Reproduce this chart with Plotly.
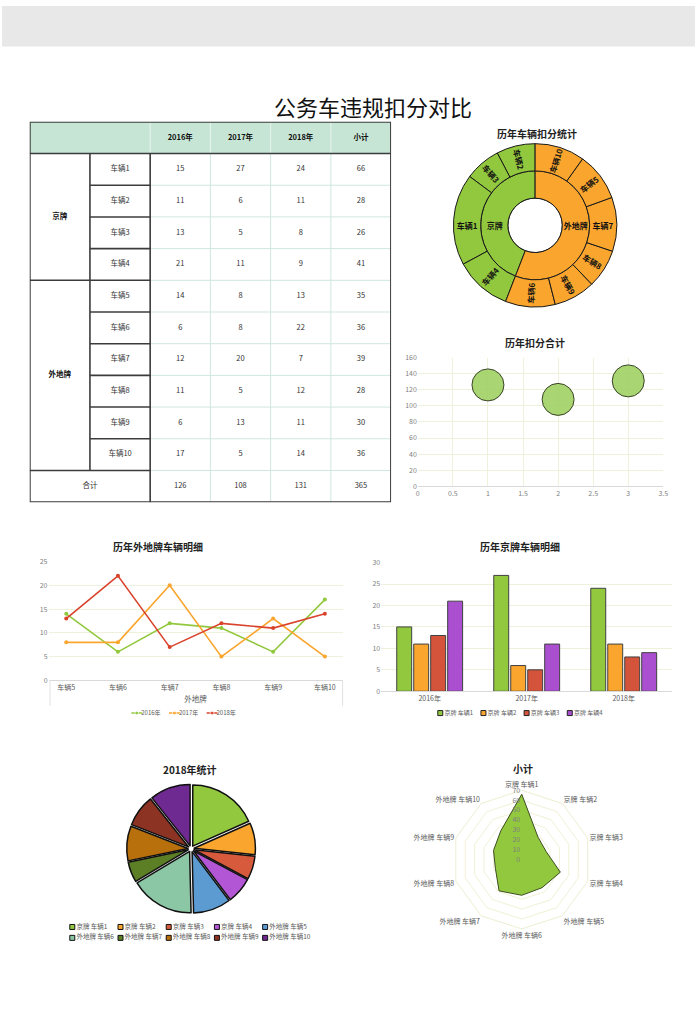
import plotly.graph_objects as go

# ---------------- data ----------------
vehicles = ["车辆1", "车辆2", "车辆3", "车辆4", "车辆5",
            "车辆6", "车辆7", "车辆8", "车辆9", "车辆10"]
plates = ["京牌"] * 4 + ["外地牌"] * 6
years = ["2016年", "2017年", "2018年"]
score_2016 = [15, 11, 13, 21, 14, 6, 12, 11, 6, 17]
score_2017 = [27, 6, 5, 11, 8, 8, 20, 5, 13, 5]
score_2018 = [24, 11, 8, 9, 13, 22, 7, 12, 11, 14]
subtotal = [66, 28, 26, 41, 35, 36, 39, 28, 30, 36]
year_total = [126, 108, 131]
grand_total = 365
plate_names = ["京牌", "外地牌"]
plate_total = [161, 204]
bubble_x = [1, 2, 3]

# order of the outer ring of the sunburst, as drawn (counterclockwise from top)
sun_order = ["车辆2", "车辆3", "车辆1", "车辆4",
             "车辆6", "车辆9", "车辆8", "车辆7", "车辆5", "车辆10"]

GREEN, ORANGE, RED, PURPLE = "#92c83e", "#f9a52e", "#d4533b", "#a94fcf"
line_colors = [GREEN, ORANGE, "#d9432b"]
bar_colors = [GREEN, ORANGE, RED, PURPLE]
pie_colors = [GREEN, ORANGE, "#d85a3d", "#b356d6", "#5b9bd1",
              "#8cc7a5", "#5c7f26", "#b8700c", "#8c3323", "#6f2a91"]

FONT = "Noto Sans CJK SC, Noto Sans, sans-serif"
W, H = 700, 1030


def fx(x):
    return x / W


def fy(y):
    return 1 - y / H


fig = go.Figure()

# ---------------- table (drawn on hidden axes x4/y4) ----------------
cols_x = [2.5, 3.5, 4.5, 5.5]
tx, ty, tt = [], [], []
for i, v in enumerate(vehicles):
    r = i + 1.5
    tx.append(1.5); ty.append(r); tt.append(v)
    for cx, val in zip(cols_x, [score_2016[i], score_2017[i], score_2018[i], subtotal[i]]):
        tx.append(cx); ty.append(r); tt.append(str(val))
tx.append(1.0); ty.append(11.5); tt.append("合计")
for cx, val in zip(cols_x, year_total + [grand_total]):
    tx.append(cx); ty.append(11.5); tt.append(str(val))

fig.add_trace(go.Scatter(x=tx, y=ty, text=tt, mode="text", xaxis="x4", yaxis="y4",
                         textfont=dict(size=7.5, color="#333333"), hoverinfo="skip",
                         showlegend=False))
fig.add_trace(go.Scatter(x=cols_x + [0.5, 0.5], y=[0.5] * 4 + [3.0, 8.0],
                         text=years + ["小计"] + plate_names, mode="text",
                         xaxis="x4", yaxis="y4",
                         textfont=dict(size=7.5, color="#111111", weight="bold"),
                         hoverinfo="skip", showlegend=False))

shapes = []
DARK = dict(color="#3c3c3c", width=1.6)
LIGHT = dict(color="#cfe7df", width=1)


def tline(x0, y0, x1, y1, line):
    shapes.append(dict(type="line", xref="x4", yref="y4", x0=x0, y0=y0, x1=x1, y1=y1,
                       line=line, layer="above"))


shapes.append(dict(type="rect", xref="x4", yref="y4", x0=0, y0=0, x1=6, y1=1,
                   fillcolor="#c6e5d5", line=dict(width=0), layer="below"))
for k in range(2, 12):
    tline(2, k, 6, k, LIGHT)
for k in (3, 4, 5):
    tline(k, 1, k, 12, LIGHT)
for k in (2, 3, 4, 5):
    tline(k, 0, k, 1, dict(color="#e8f4ee", width=1))
tline(0, 1, 6, 1, DARK)
tline(2, 1, 2, 12, DARK)
tline(1, 1, 1, 11, DARK)
for k in (2, 3, 4, 6, 7, 8, 9, 10):
    tline(1, k, 2, k, DARK)
for k in (5, 11):
    tline(0, k, 2, k, DARK)
shapes.append(dict(type="rect", xref="x4", yref="y4", x0=0, y0=0, x1=6, y1=12,
                   line=dict(color="#3c3c3c", width=2), layer="above"))

# grey band at the very top of the page
shapes.append(dict(type="rect", xref="paper", yref="paper", x0=0, x1=1,
                   y0=fy(41), y1=1, fillcolor="#e8e8e8", line=dict(width=0), layer="below"))
# light frame round the line chart's category labels
for xx in (48.5, 344):
    shapes.append(dict(type="line", xref="paper", yref="paper", x0=fx(xx), x1=fx(xx),
                       y0=fy(681), y1=fy(707), line=dict(color="#e2e2e2", width=1)))

# ---------------- sunburst ----------------
sb_ids = ["root"] + plate_names + ["s-" + v for v in sun_order]
sb_labels = [""] + plate_names + sun_order
sb_parents = [""] + ["root", "root"] + [plates[vehicles.index(v)] for v in sun_order]
sb_values = [grand_total] + plate_total + [subtotal[vehicles.index(v)] for v in sun_order]
sb_colors = ["white", GREEN, ORANGE] + [GREEN if plates[vehicles.index(v)] == "京牌" else ORANGE
                                         for v in sun_order]
fig.add_trace(go.Sunburst(ids=sb_ids, labels=sb_labels, parents=sb_parents, values=sb_values,
                          branchvalues="total", sort=False, rotation=90,
                          marker=dict(colors=sb_colors, line=dict(color="#1a1a1a", width=1)),
                          leaf=dict(opacity=1),
                          insidetextorientation="radial",
                          textfont=dict(size=8, color="#111111", weight="bold"),
                          hoverinfo="skip",
                          domain=dict(x=[fx(456), fx(621)], y=[fy(304), fy(139)])))

# ---------------- bubble chart ----------------
fig.add_trace(go.Scatter(x=bubble_x, y=year_total, mode="markers", xaxis="x", yaxis="y",
                         marker=dict(size=32, color="#a5d36b", opacity=0.95,
                                     line=dict(color="#2f3a1c", width=1)),
                         showlegend=False))

# ---------------- line chart (外地牌) ----------------
wai_idx = [i for i, p in enumerate(plates) if p == "外地牌"]
for name, series, col in zip(years, [score_2016, score_2017, score_2018], line_colors):
    fig.add_trace(go.Scatter(x=[vehicles[i] for i in wai_idx], y=[series[i] for i in wai_idx],
                             name=name, mode="lines+markers", xaxis="x2", yaxis="y2",
                             line=dict(color=col, width=1.6), marker=dict(size=4, color=col),
                             showlegend=False))

# ---------------- bar chart (京牌) ----------------
jing_idx = [i for i, p in enumerate(plates) if p == "京牌"]
bar_names = [plates[i] + " " + vehicles[i] for i in jing_idx]
for i, name, col in zip(jing_idx, bar_names, bar_colors):
    fig.add_trace(go.Bar(x=years, y=[score_2016[i], score_2017[i], score_2018[i]],
                         name=name, xaxis="x3", yaxis="y3",
                         marker=dict(color=col, line=dict(color="#404040", width=1)),
                         showlegend=False))

# ---------------- pie (2018) ----------------
pie_labels = [p + " " + v for p, v in zip(plates, vehicles)]
fig.add_trace(go.Pie(labels=pie_labels, values=score_2018, sort=False, direction="clockwise",
                     rotation=0, pull=0.05, textinfo="none", showlegend=False,
                     marker=dict(colors=pie_colors, line=dict(color="#111111", width=1.5)),
                     domain=dict(x=[fx(126), fx(256)], y=[fy(916), fy(786)])))

# ---------------- radar (小计) ----------------
fig.add_trace(go.Scatterpolar(r=subtotal + subtotal[:1], theta=pie_labels + pie_labels[:1],
                              mode="lines", fill="toself", fillcolor=GREEN,
                              line=dict(color="#3d4d1f", width=1), showlegend=False))

# ---------------- compact keys (axes in page pixels) ----------------
# line chart key -> x6/y6
for k, (name, col) in enumerate(zip(years, line_colors)):
    x0 = 130.7 + k * 38
    fig.add_trace(go.Scatter(x=[x0, x0 + 5.5, x0 + 11], y=[714, 714, 714], mode="lines+markers",
                             xaxis="x6", yaxis="y6", line=dict(color=col, width=1.6),
                             marker=dict(size=[0, 4, 0], color=col), hoverinfo="skip",
                             showlegend=False))
    fig.add_trace(go.Scatter(x=[x0 + 10], y=[714], text=[name], mode="text",
                             textposition="middle right", xaxis="x6", yaxis="y6",
                             textfont=dict(size=6, color="#595959"), hoverinfo="skip",
                             showlegend=False))
# bar chart key -> x7/y7
fig.add_trace(go.Scatter(x=[442.7 + k * 43.6 for k in range(4)], y=[714] * 4, text=bar_names,
                         mode="markers+text", textposition="middle right",
                         xaxis="x7", yaxis="y7", hoverinfo="skip", showlegend=False,
                         marker=dict(symbol="square", size=5, color=bar_colors,
                                     line=dict(color="#222222", width=1)),
                         textfont=dict(size=6, color="#595959")))
# pie key, five entries per row -> x8/y8
fig.add_trace(go.Scatter(x=[71 + (i % 5) * 48.7 for i in range(10)],
                         y=[930 + (i // 5) * 11 for i in range(10)],
                         text=pie_labels, mode="markers+text", textposition="middle right",
                         xaxis="x8", yaxis="y8", hoverinfo="skip", showlegend=False,
                         marker=dict(symbol="square", size=5, color=pie_colors,
                                     line=dict(color="#111111", width=1)),
                         textfont=dict(size=6.5, color="#595959")))


def pix_axes(x0, x1, y0, y1):
    xa = dict(domain=[fx(x0), fx(x1)], range=[x0, x1], visible=False, fixedrange=True)
    ya = dict(domain=[fy(y1), fy(y0)], range=[y1, y0], visible=False, fixedrange=True)
    return xa, ya


x6, y6 = pix_axes(120, 280, 706, 722)
x7, y7 = pix_axes(430, 690, 706, 722)
x8, y8 = pix_axes(60, 340, 922, 950)
x6["anchor"], y6["anchor"] = "y6", "x6"
x7["anchor"], y7["anchor"] = "y7", "x7"
x8["anchor"], y8["anchor"] = "y8", "x8"

# ---------------- layout ----------------
tick = dict(size=7, color="#7f7f7f")
grid = "#eef1dc"
annotations = [
    dict(x=fx(375), y=fy(101), text="公务车违规扣分对比", font=dict(size=22, color="#111111")),
    dict(x=fx(540), y=fy(129), text="历年车辆扣分统计", font=dict(size=10, color="#222", weight="bold")),
    dict(x=fx(538), y=fy(340), text="历年扣分合计", font=dict(size=10, color="#222", weight="bold")),
    dict(x=fx(158), y=fy(546), text="历年外地牌车辆明细", font=dict(size=10, color="#222", weight="bold")),
    dict(x=fx(523), y=fy(546), text="历年京牌车辆明细", font=dict(size=10, color="#222", weight="bold")),
    dict(x=fx(190), y=fy(771), text="2018年统计", font=dict(size=10, color="#222", weight="bold")),
    dict(x=fx(526), y=fy(770), text="小计", font=dict(size=10, color="#222", weight="bold")),
]
for a in annotations:
    a.update(xref="paper", yref="paper", showarrow=False, xanchor="center", yanchor="middle")

fig.update_layout(
    width=W, height=H, margin=dict(l=0, r=0, t=0, b=0),
    paper_bgcolor="white", plot_bgcolor="white",
    font=dict(family=FONT, size=8, color="#333333"),
    shapes=shapes, annotations=annotations, showlegend=False,
    bargap=0.3, bargroupgap=0.12,
    xaxis=dict(domain=[fx(420), fx(668)], range=[0, 3.5], dtick=0.5, anchor="y",
               showgrid=True, gridcolor=grid, zeroline=False, showline=True,
               linecolor="#d9d9d9", tickfont=tick, fixedrange=True),
    yaxis=dict(domain=[fy(485), fy(355)], range=[0, 160], dtick=20, anchor="x",
               showgrid=True, gridcolor=grid, zeroline=False, tickfont=tick, fixedrange=True),
    xaxis2=dict(domain=[fx(47), fx(344)], anchor="y2", type="category", showgrid=False,
                showline=True, linecolor="#d9d9d9", tickfont=dict(size=7, color="#595959"),
                title=dict(text="外地牌", font=dict(size=7.5, color="#595959"), standoff=5)),
    yaxis2=dict(domain=[fy(681), fy(561)], anchor="x2", range=[0, 25], dtick=5,
                showgrid=True, gridcolor=grid, zeroline=False, tickfont=tick),
    xaxis3=dict(domain=[fx(383), fx(677)], anchor="y3", type="category", showgrid=False,
                showline=True, linecolor="#d9d9d9", tickfont=dict(size=7, color="#595959")),
    yaxis3=dict(domain=[fy(692), fy(562)], anchor="x3", range=[0, 30], dtick=5,
                showgrid=True, gridcolor=grid, zeroline=False, tickfont=tick),
    xaxis4=dict(domain=[fx(28), fx(393)], anchor="y4", range=[0, 6], visible=False),
    yaxis4=dict(domain=[fy(501), fy(117)], anchor="x4", range=[12, 0], visible=False),
    xaxis6=x6, yaxis6=y6, xaxis7=x7, yaxis7=y7, xaxis8=x8, yaxis8=y8,
    polar=dict(domain=dict(x=[fx(455), fx(595)], y=[fy(932), fy(792)]), bgcolor="white",
               gridshape="linear",
               radialaxis=dict(range=[0, 70], dtick=10, angle=90, side="counterclockwise",
                               tickangle=90, showline=False, gridcolor="#f1f1d6", ticks="",
                               tickfont=tick),
               angularaxis=dict(rotation=90, direction="clockwise", showgrid=False,
                                linecolor="#eeeed2", ticks="",
                                tickfont=dict(size=7, color="#595959"))),
)

# the page body has an 8px default margin; remove it so the figure fills the window
fig.write_html("out.html", config={"displayModeBar": False},
               post_script="document.body.style.margin='0';")
